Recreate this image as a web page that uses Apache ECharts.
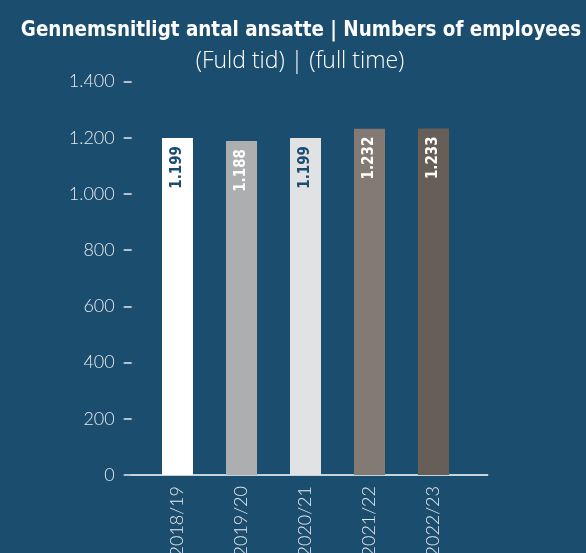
<!DOCTYPE html>
<html><head><meta charset="utf-8">
<script src="https://cdn.jsdelivr.net/npm/echarts@6/dist/echarts.min.js"></script>
<style>html,body{margin:0;padding:0;background:#1b4d6e}#c{width:586px;height:553px}</style>
</head><body><div id="c"></div>
<script>
const categories = ['2018/19','2019/20','2020/21','2021/22','2022/23'];
const employees = [1199, 1188, 1199, 1232, 1233];
const barColors = ['#ffffff','#adaeb0','#e1e2e4','#837a74','#665e57'];
const labelColors = ['#1b4d6e','#ffffff','#1b4d6e','#ffffff','#ffffff'];
const yTicks = [0,200,400,600,800,1000,1200,1400];

const NARROW = '"DejaVu Sans Condensed","Liberation Sans Narrow",sans-serif';
const LIGHT = 'Lato,"Open Sans",sans-serif';
const SUB = '"Open Sans",Lato,sans-serif';
const fmt = v => String(v).replace(/\B(?=(\d{3})+(?!\d))/g, '.');
const chart = echarts.init(document.getElementById('c'));
chart.setOption({
  backgroundColor: '#1b4d6e',
  animation: false,
  title: [{
    text: 'Gennemsnitligt antal ansatte | Numbers of employees',
    left: 296, top: 16, textAlign: 'center',
    textStyle: {color:'#fff', fontSize: 20.4, fontWeight:'bold', fontFamily: NARROW}
  },{
    text: '(Fuld tid) | (full time)',
    left: 295, top: 45, textAlign: 'center',
    textStyle: {color:'#fff', fontSize: 23, fontWeight:300, fontFamily: SUB}
  }],
  grid: [
    {left: 145.5, right: 120.5, top: 81.5, bottom: 78, outerBoundsMode: 'none', containLabel: false},
    {left: 131.7, right: 98.3, top: 81.5, bottom: 78, outerBoundsMode: 'none', containLabel: false}
  ],
  xAxis: [{
    type:'category', gridIndex:0, data: categories,
    axisLine:{show:false}, axisTick:{show:false},
    axisLabel:{rotate:90, margin:11, color:'#e6e9ee', fontSize:18, fontWeight:300, fontFamily: LIGHT}
  },{
    type:'category', gridIndex:1, data: categories,
    axisLine:{show:true, lineStyle:{color:'#ffffff', width:1.5}},
    axisTick:{show:false}, axisLabel:{show:false}
  }],
  yAxis: [{
    type:'value', gridIndex:0, min: yTicks[0], max: yTicks[yTicks.length-1], interval: 200,
    offset: 13.8,
    splitLine:{show:false}, axisLine:{show:false},
    axisTick:{show:true, length:8, lineStyle:{color:'#e6e9ee', width:1.5}},
    axisLabel:{margin:17, color:'#e6e9ee', fontSize:18, fontWeight:300, fontFamily: LIGHT, formatter: v => fmt(v)}
  },{
    type:'value', gridIndex:1, min:0, max:1400, show:false
  }],
  series: [{
    type:'bar', xAxisIndex:0, yAxisIndex:0,
    barWidth: 31,
    data: employees.map((v,i)=>({value:v, itemStyle:{color:barColors[i]},
      label:{color: labelColors[i]}})),
    label:{show:true, position:'insideTop', rotate:90, align:'right', verticalAlign:'middle', distance:8,
      fontSize:15, fontWeight:'bold', fontFamily: NARROW,
      formatter: p => fmt(p.value)}
  }]
});
</script></body></html>
